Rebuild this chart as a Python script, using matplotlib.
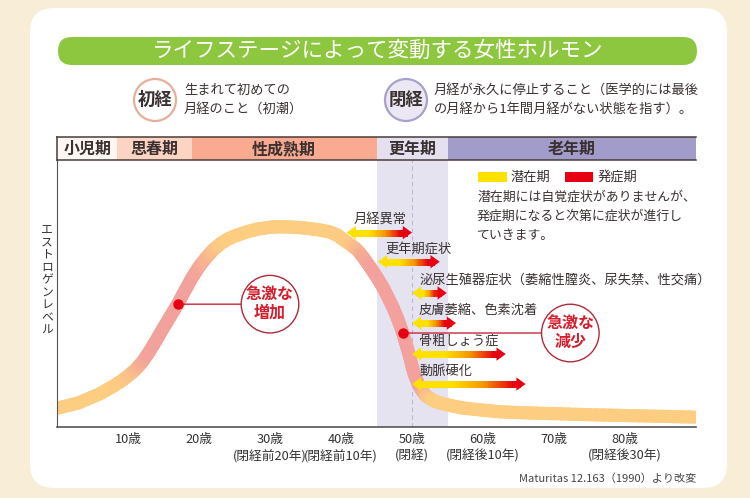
import numpy as np
import matplotlib
matplotlib.use('Agg')
import matplotlib.pyplot as plt
from matplotlib.collections import LineCollection
from matplotlib.patches import FancyBboxPatch, Circle, Rectangle, Polygon
from matplotlib.colors import to_rgb, LinearSegmentedColormap

plt.rcParams['font.family'] = ['Noto Sans CJK JP', 'DejaVu Sans']

# estrogen level curve (age in years, relative level 0-100)
curve_age = [0, 3, 6, 8, 9, 10, 11, 12, 13, 14, 15, 16, 17, 18, 19, 20, 21, 22,
             23, 24, 25, 26.5, 28, 30, 31, 33, 35, 37, 38.5, 39.5, 40.3, 41.3,
             42.3, 43.2, 44.1, 45, 45.9, 46.6, 47.3, 48, 48.7, 49.2, 49.7, 50.05,
             50.4, 51, 51.5, 52, 53, 53.9, 55.5, 57.2, 60, 62.4, 66, 70, 75, 80, 85, 90]
curve_level = [7, 9, 12.4, 15.4, 17.1, 19.1, 21.4, 24.3, 28.2, 32.6, 37.2, 41.6,
               46, 51, 55.8, 60, 63.4, 66.3, 68.6, 70.3, 71.5, 72.9, 74, 74.8, 75,
               74.9, 74.5, 73.8, 73, 71.8, 70.2, 68.4, 66.3, 63.3, 59.9, 56.3, 52.4,
               48.7, 44.9, 40.4, 35.2, 30.7, 26.2, 22.3, 19.2, 15.4, 13.3, 11.6, 9.9,
               9.0, 8.0, 7.1, 6.3, 5.7, 5.3, 5.0, 4.6, 4.3, 4.0, 3.7]

stage_names = ['小児期', '思春期', '性成熟期', '更年期', '老年期']
stage_start = [0, 8.5, 19, 45, 55]
stage_end = [8.5, 19, 45, 55, 90]
stage_colors = ['#fdf6f2', '#fcd4c3', '#f9aa90', '#e4e0f0', '#a29ccb']

menopause_age = 50
tick_ages = [10, 20, 30, 40, 50, 60, 70, 80]
tick_notes = ['', '', '(閉経前20年)', '(閉経前10年)', '(閉経)', '(閉経後10年)', '', '(閉経後30年)']

symptom_names = ['月経異常', '更年期症状', '泌尿生殖器症状（萎縮性膣炎、尿失禁、性交痛）',
                 '皮膚萎縮、色素沈着', '骨粗しょう症', '動脈硬化']
symptom_start = [40.8, 45.2, 50, 50, 50, 50]
symptom_end = [50, 53.9, 54.9, 56.2, 63.2, 66]
symptom_level = [72.8, 61.9, 50.2, 38.9, 27.3, 16.1]

rapid_age = [17, 48.7]
rapid_level = [46, 35.2]
rapid_label_age = [30, 72.3]
rapid_labels = ['急激な\n増加', '急激な\n減少']

W, H = 750, 498
TXT = '#3a3030'
YELLOW = '#ffe100'
RED = '#e60012'

fig = plt.figure(figsize=(7.5, 4.98), dpi=100, facecolor='#f8eed8')

# background layer in pixel coords
bg = fig.add_axes([0, 0, 1, 1], zorder=0)
bg.set_xlim(0, W)
bg.set_ylim(H, 0)
bg.axis('off')
bg.add_patch(FancyBboxPatch((30, 8), 697, 480, boxstyle='round,pad=0,rounding_size=24',
                            fc='white', ec='none'))
bg.add_patch(FancyBboxPatch((58, 37), 639, 28, boxstyle='round,pad=0,rounding_size=14',
                            fc='#8dc63f', ec='none'))
bg.text(378, 51, 'ライフステージによって変動する女性ホルモン', color='white',
        fontsize=15.5, ha='center', va='center')

# main chart
ax = fig.add_axes([57 / W, (H - 427) / H, 639 / W, 267 / H], zorder=1)
ax.set_facecolor('none')
ax.set_xlim(0, 90)
ax.set_ylim(0, 100)
ax.axvspan(stage_start[3], stage_end[3], color='#e6e3f1', lw=0, zorder=0)
ax.axvline(menopause_age, color='#bdb8d2', lw=0.8, ls=(0, (4, 3)), zorder=0.5)
for s in ['top', 'right']:
    ax.spines[s].set_visible(False)
ax.spines['left'].set_color('#555555')
ax.spines['bottom'].set_color('#555555')
ax.spines['bottom'].set_linewidth(1.2)
ax.set_yticks([])
ax.set_xticks(tick_ages)
ax.set_xticklabels([f'{a}歳' + (f'\n{n}' if n else '') for a, n in zip(tick_ages, tick_notes)],
                   fontsize=9.2, color='#333333')
for lbl in ax.get_xticklabels():
    lbl.set_linespacing(1.4)
ax.tick_params(axis='x', length=0, pad=4)

# gradient curve
ages = np.array(curve_age, float)
lev = np.array(curve_level, float)
slope = np.abs(np.diff(lev) / np.diff(ages))
w = np.clip((slope - 1.8) / 2.2, 0, 1)
wv = np.concatenate([[w[0]], (w[:-1] + w[1:]) / 2, [w[-1]]])
base = np.array(to_rgb('#fdcd82'))
pink = np.array(to_rgb('#f3a19c'))
segs, cols = [], []
ts = np.linspace(0, 1, 6)
for i in range(len(ages) - 1):
    for t0, t1 in zip(ts[:-1], ts[1:]):
        p0 = (ages[i] + t0 * (ages[i + 1] - ages[i]), lev[i] + t0 * (lev[i + 1] - lev[i]))
        p1 = (ages[i] + t1 * (ages[i + 1] - ages[i]), lev[i] + t1 * (lev[i + 1] - lev[i]))
        segs.append([p0, p1])
        wm = wv[i] + (t0 + t1) / 2 * (wv[i + 1] - wv[i])
        cols.append(base * (1 - wm) + pink * wm)
ax.add_collection(LineCollection(segs, colors=cols, linewidths=9.5, capstyle='round',
                                 joinstyle='round', zorder=2))

# symptom arrows
arrow_cmap = LinearSegmentedColormap.from_list('yr', [YELLOW, '#f39800', RED])


def draw_arrow(x0, x1, y):
    hl, hh, n = 1.3, 2.5, 40
    xs = np.linspace(x0 + hl * 0.9, x1 - hl * 0.9, n + 1)
    sg = [[(xs[k], y), (xs[k + 1], y)] for k in range(n)]
    t = (np.arange(n) + 0.5) / n
    c = arrow_cmap(np.clip((t - 0.35) / 0.65, 0, 1))
    ax.add_collection(LineCollection(sg, colors=c, linewidths=5, capstyle='projecting', zorder=3))
    ax.add_patch(Polygon([(x0, y), (x0 + hl, y + hh), (x0 + hl, y - hh)], color=YELLOW, lw=0, zorder=3.5))
    ax.add_patch(Polygon([(x1, y), (x1 - hl, y + hh), (x1 - hl, y - hh)], color=RED, lw=0, zorder=3.5))


for name, a0, a1, lv in zip(symptom_names, symptom_start, symptom_end, symptom_level):
    draw_arrow(a0, a1, lv)
    ax.text(a0 + 1.0, lv + 4.7, name, fontsize=9.5, color=TXT, ha='left', va='center', zorder=4)

# rapid change markers
for a, lv, la, lab in zip(rapid_age, rapid_level, rapid_label_age, rapid_labels):
    ax.annotate(lab, xy=(a, lv), xytext=(la, lv), fontsize=11.5, fontweight='bold',
                color='#d61f2c', ha='center', va='center', linespacing=1.15, zorder=5,
                bbox=dict(boxstyle='circle,pad=0.3', fc='white', ec='#b02a3a', lw=1),
                arrowprops=dict(arrowstyle='-', color='#c8283a', lw=1, shrinkA=0, shrinkB=0))
    ax.plot(a, lv, 'o', color=RED, ms=6.5, zorder=6)

# stage bar
sx = fig.add_axes([57 / W, (H - 160) / H, 639 / W, 23 / H], zorder=1)
sx.set_xlim(0, 90)
sx.set_ylim(0, 1)
sx.barh(0.5, np.array(stage_end) - np.array(stage_start), left=stage_start, height=1,
        color=stage_colors, lw=0)
for name, s0, s1 in zip(stage_names, stage_start, stage_end):
    sx.text((s0 + s1) / 2, 0.48, name, fontsize=11.5, fontweight='bold', color=TXT,
            ha='center', va='center')
sx.set_xticks([])
sx.set_yticks([])
sx.spines['right'].set_visible(False)
for s in ['top', 'bottom', 'left']:
    sx.spines[s].set_color('#4a3c38')
    sx.spines[s].set_linewidth(1.1)

# foreground decorations in pixel coords
fg = fig.add_axes([0, 0, 1, 1], zorder=3)
fg.set_facecolor('none')
fg.set_xlim(0, W)
fg.set_ylim(H, 0)
fg.axis('off')

fg.add_patch(Circle((155, 100), 21, fc='white', ec='#e8ae9c', lw=1.6))
fg.text(155, 100, '初経', fontsize=12.5, fontweight='bold', color=TXT, ha='center', va='center')
fg.text(184, 90, '生まれて初めての', fontsize=9.5, color=TXT, va='center')
fg.text(184, 109, '月経のこと（初潮）', fontsize=9.5, color=TXT, va='center')

fg.add_patch(Circle((406, 100), 21, fc='#ebe8f3', ec='#a7a1cc', lw=1.6))
fg.text(406, 100, '閉経', fontsize=12.5, fontweight='bold', color=TXT, ha='center', va='center')
fg.text(434, 90, '月経が永久に停止すること（医学的には最後', fontsize=9.5, color=TXT, va='center')
fg.text(434, 109, 'の月経から1年間月経がない状態を指す）。', fontsize=9.5, color=TXT, va='center')

# legend
fg.add_patch(Rectangle((478, 172), 29, 10, fc=YELLOW, ec='none'))
fg.text(511, 177, '潜在期', fontsize=9.5, color=TXT, va='center')
fg.add_patch(Rectangle((565, 172), 28, 10, fc=RED, ec='none'))
fg.text(598, 177, '発症期', fontsize=9.5, color=TXT, va='center')
for k, line in enumerate(['潜在期には自覚症状がありませんが、', '発症期になると次第に症状が進行し',
                          'ていきます。']):
    fg.text(477, 197 + k * 19, line, fontsize=9.3, color=TXT, va='center')

# vertical y label
for k, ch in enumerate('エストロゲンレベル'):
    fg.text(47, 229 + k * 12.7, ch, fontsize=8.5, color=TXT, ha='center', va='center')

fg.text(696, 479, 'Maturitas 12.163（1990）より改変', fontsize=8, color='#444444',
        ha='right', va='center')

fig.savefig('out.png', dpi=100, facecolor=fig.get_facecolor())
